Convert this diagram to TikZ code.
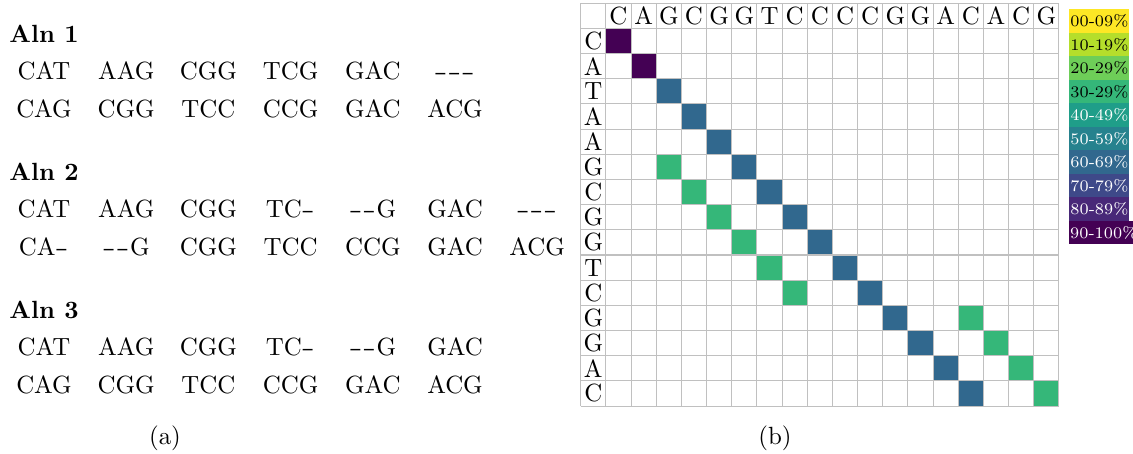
\documentclass[tikz,border=0pt]{standalone}
\usepackage{xcolor}
\usepackage{graphicx}
\definecolor{vA}{HTML}{FDE725}
\definecolor{vB}{HTML}{B5DE2B}
\definecolor{vC}{HTML}{6ECE58}
\definecolor{vD}{HTML}{35B779}
\definecolor{vE}{HTML}{1F9E89}
\definecolor{vF}{HTML}{26828E}
\definecolor{vG}{HTML}{31688E}
\definecolor{vH}{HTML}{3E4989}
\definecolor{vI}{HTML}{482878}
\definecolor{vJ}{HTML}{440154}
\definecolor{gridgray}{HTML}{C0C0C0}
\newcommand{\hy}{\makebox[6pt]{\scalebox{1.5}[1]{-}}}
\begin{document}
\begin{tikzpicture}[x=0.44pt,y=-0.44pt,
  txt/.style={font=\fontsize{10.95}{13}\selectfont, inner sep=0pt, anchor=base},
  ttl/.style={txt, anchor=base west, font=\fontsize{10.95}{13}\selectfont\bfseries},
  glab/.style={font=\fontsize{10.95}{13}\selectfont, inner sep=0pt},
  gl/.style={draw=gridgray, line width=0.45pt},
  leg/.style={anchor=north west, inner xsep=0.3pt, inner ysep=0pt,
    minimum width=26.4pt, minimum height=10.34pt,
    font=\fontsize{7.1}{8}\selectfont}]
\useasboundingbox (0,0) rectangle (1133,454);

% ---------- (a) alignments ----------
\node[ttl] (t1) at (9,43) {Aln 1};
\foreach \w [count=\i] in {CAT,AAG,CGG,TCG,GAC,\hy\hy\hy}
  \node[txt] (a1u\i) at ({44+(\i-1)*82.2},80) {\w};
\foreach \w [count=\i] in {CAG,CGG,TCC,CCG,GAC,ACG}
  \node[txt] (a1d\i) at ({44+(\i-1)*82.2},118) {\w};

\node[ttl] (t2) at (9,181) {Aln 2};
\foreach \w [count=\i] in {CAT,AAG,CGG,TC\hy,\hy\hy G,GAC,\hy\hy\hy}
  \node[txt] (a2u\i) at ({44+(\i-1)*82.2},218) {\w};
\foreach \w [count=\i] in {CA\hy,\hy\hy G,CGG,TCC,CCG,GAC,ACG}
  \node[txt] (a2d\i) at ({44+(\i-1)*82.2},256) {\w};

\node[ttl] (t3) at (9,319) {Aln 3};
\foreach \w [count=\i] in {CAT,AAG,CGG,TC\hy,\hy\hy G,GAC}
  \node[txt] (a3u\i) at ({44+(\i-1)*82.2},356) {\w};
\foreach \w [count=\i] in {CAG,CGG,TCC,CCG,GAC,ACG}
  \node[txt] (a3d\i) at ({44+(\i-1)*82.2},394) {\w};

\node[txt] (capa) at (165,445) {(a)};

% ---------- (b) dot matrix ----------
\foreach \r/\c/\col in {1/1/vJ,2/2/vJ,3/3/vG,4/4/vG,5/5/vG,
    6/3/vD,6/6/vG,7/4/vD,7/7/vG,8/5/vD,8/8/vG,9/6/vD,9/9/vG,
    10/7/vD,10/10/vG,11/8/vD,11/11/vG,12/12/vG,12/15/vD,
    13/13/vG,13/16/vD,14/14/vG,14/17/vD,15/15/vG,15/18/vD}
  \fill[\col] ({580.7+\c*25.17},{3.3+\r*25.17}) rectangle ++(25.17,25.17);

\foreach \k in {0,...,19}
  \draw[gl] ({580.7+\k*25.17},3.3) -- ({580.7+\k*25.17},{3.3+16*25.17});
\foreach \k in {0,...,16}
  \draw[gl] (580.7,{3.3+\k*25.17}) -- ({580.7+19*25.17},{3.3+\k*25.17});

\foreach \l [count=\j] in {C,A,G,C,G,G,T,C,C,C,C,G,G,A,C,A,C,G}
  \node[glab] (h\j) at ({580.7+(\j+0.5)*25.17},{3.3+0.5*25.17}) {\l};
\foreach \l [count=\i] in {C,A,T,A,A,G,C,G,G,T,C,G,G,A,C}
  \node[glab] (v\i) at ({580.7+0.5*25.17},{3.3+(\i+0.5)*25.17}) {\l};

\node[txt] (capb) at (775,445) {(b)};

% ---------- legend ----------
\foreach \t/\c/\tc [count=\k from 0] in {00-09\%/vA/black,10-19\%/vB/black,
    20-29\%/vC/black,30-29\%/vD/black,40-49\%/vE/white,50-59\%/vF/white,
    60-69\%/vG/white,70-79\%/vH/white,80-89\%/vI/white}
  \node[leg, fill=\c, text=\tc] (lg\k) at (1069,{9+\k*23.5}) {\t};
\node[leg, fill=vJ, text=white, minimum width=27.5pt] (lg9) at (1069,{9+9*23.5}) {90-100\%};
\end{tikzpicture}
\end{document}
